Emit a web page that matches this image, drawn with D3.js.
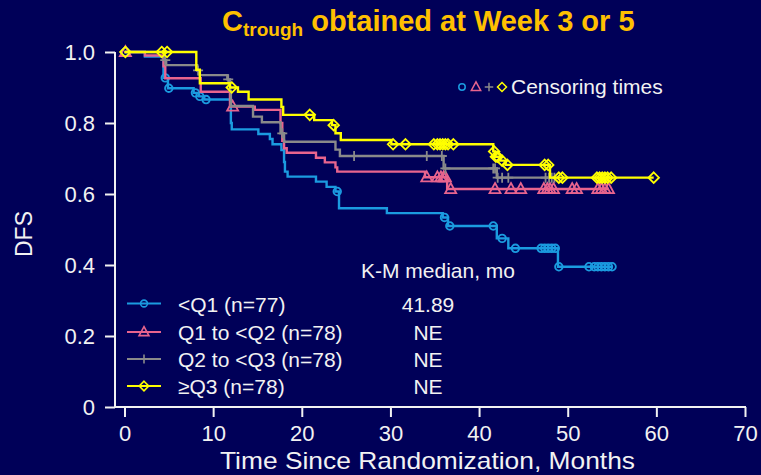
<!DOCTYPE html>
<html><head><meta charset="utf-8">
<script src="https://cdn.jsdelivr.net/npm/d3@7"></script>
<style>html,body{margin:0;padding:0;background:#000058;} svg{display:block;}</style>
</head><body><svg id="c" width="761" height="475"></svg>
<script>
// ---------- data ----------
const groupLabels = ["<Q1 (n=77)", "Q1 to <Q2 (n=78)", "Q2 to <Q3 (n=78)", "≥Q3 (n=78)"];
const medianLabels = ["41.89", "NE", "NE", "NE"];
const xTicks = [0, 10, 20, 30, 40, 50, 60, 70];
const yTicks = [0, 0.2, 0.4, 0.6, 0.8, 1.0];

// <Q1 : step times (months) and DFS after each step, censoring times
const q1Times = [0, 2.3, 4.4, 4.9, 7.8, 8.4, 9.0, 12.0, 12.1, 15.1, 16.4, 16.7, 17.7, 18.0, 18.1, 18.4, 21.6, 22.8, 23.8, 24.2, 29.6, 35.9, 36.5, 42.0, 43.3, 48.9];
const q1Surv  = [1, 0.987, 0.927, 0.898, 0.885, 0.875, 0.866, 0.80, 0.782, 0.769, 0.755, 0.740, 0.724, 0.69, 0.663, 0.649, 0.635, 0.620, 0.607, 0.560, 0.546, 0.534, 0.510, 0.475, 0.447, 0.395];
const q1Censor = [0.1, 4.6, 5.0, 8.0, 8.5, 9.2, 24.0, 36.1, 36.7, 41.6, 42.6, 44.1, 47.0, 47.4, 47.8, 48.2, 48.6, 49.0, 52.4, 53.0, 53.4, 53.8, 54.2, 54.6, 55.0];

// Q1 to <Q2
const q2Times = [0, 2.3, 4.4, 4.6, 8.6, 11.9, 14.7, 17.6, 17.8, 18.0, 18.3, 21.6, 22.6, 23.8, 24.0, 33.9, 36.4];
const q2Surv  = [1, 0.99, 0.96, 0.926, 0.888, 0.846, 0.837, 0.80, 0.75, 0.729, 0.716, 0.702, 0.689, 0.675, 0.663, 0.647, 0.614];
const q2Censor = [0.1, 12.2, 34.1, 35.3, 35.7, 36.0, 36.2, 36.8, 41.8, 43.6, 44.7, 47.3, 47.7, 48.0, 48.4, 50.5, 51.0, 53.4, 53.8, 54.2, 54.6];

// Q2 to <Q3
const q3Times = [0, 4.5, 4.7, 8.2, 8.5, 11.6, 11.9, 12.0, 14.5, 15.5, 17.6, 18.0, 23.8, 24.3, 36.0, 42.0];
const q3Surv  = [1, 0.977, 0.963, 0.948, 0.935, 0.923, 0.89, 0.848, 0.818, 0.802, 0.771, 0.747, 0.725, 0.707, 0.672, 0.646];
const q3Censor = [4.6, 8.3, 11.7, 17.8, 25.9, 34.1, 35.8, 36.2, 41.6, 41.8, 42.1, 42.6, 43.3, 47.5, 47.9, 48.2, 48.5];

// >=Q3
const q4Times = [0, 8.1, 8.5, 11.9, 12.8, 14.0, 17.7, 17.9, 21.4, 23.4, 23.8, 24.4, 30.1, 41.6, 41.8, 42.4, 43.0, 48.0];
const q4Surv  = [1, 0.95, 0.912, 0.90, 0.888, 0.866, 0.845, 0.823, 0.808, 0.794, 0.771, 0.752, 0.740, 0.72, 0.705, 0.694, 0.682, 0.646];
const q4Censor = [0.1, 4.2, 4.8, 12.1, 20.9, 23.6, 30.3, 31.7, 34.9, 35.3, 35.6, 35.9, 36.2, 36.5, 37.1, 41.7, 41.9, 42.1, 42.6, 43.2, 47.4, 47.8, 49.0, 49.4, 53.3, 53.6, 53.9, 54.2, 54.5, 54.9, 59.7];

const colors = ["#1B9BE0", "#E8648E", "#8A8A8A", "#FFFF00"];
const symbols = ["circle", "triangle", "plus", "diamond"];

// ---------- chart ----------
const W = 761, H = 475;
const BG = "#000058";
const FG = "#F2F2F2";
const FONT = "'Liberation Sans', Arial, sans-serif";
const svg = d3.select("#c");
svg.append("rect").attr("width", W).attr("height", H).attr("fill", BG);

const x = d3.scaleLinear().domain([0, 70]).range([124.5, 745]);
const y = d3.scaleLinear().domain([0, 1]).range([407, 52]);
const axisX0 = 115;

// title
const title = svg.append("text").attr("x", 222).attr("y", 31)
  .attr("font-family", FONT).attr("font-weight", "bold").attr("font-size", 29).attr("fill", "#FFC000");
title.append("tspan").text("C");
title.append("tspan").attr("font-size", 19).attr("dy", 5).text("trough");
title.append("tspan").attr("dy", -5).text(" obtained at Week 3 or 5");

// axes
const yAxis = svg.append("g").attr("transform", `translate(${axisX0},0)`)
  .call(d3.axisLeft(y).tickValues(yTicks).tickSize(10).tickPadding(10)
    .tickFormat(d => d === 0 ? "0" : d.toFixed(1)));
const xAxis = svg.append("g").attr("transform", `translate(0,${y(0)})`)
  .call(d3.axisBottom(x).tickValues(xTicks).tickSize(10).tickPadding(8).tickFormat(d3.format("d")));
[yAxis, xAxis].forEach(a => {
  a.select(".domain").remove();
  a.selectAll("line").attr("stroke", FG).attr("stroke-width", 2);
  a.selectAll("text").attr("fill", FG).attr("font-family", FONT).attr("font-size", 22);
});
svg.append("line").attr("x1", axisX0).attr("x2", axisX0).attr("y1", y(1)).attr("y2", y(0))
  .attr("stroke", FG).attr("stroke-width", 2);
svg.append("line").attr("x1", axisX0 - 1).attr("x2", x(70) + 1).attr("y1", y(0)).attr("y2", y(0))
  .attr("stroke", FG).attr("stroke-width", 2);

// axis titles
svg.append("text").attr("x", 220).attr("y", 469).attr("font-family", FONT).attr("font-size", 24)
  .attr("fill", FG).attr("textLength", 415).attr("lengthAdjust", "spacingAndGlyphs")
  .text("Time Since Randomization, Months");
svg.append("text").attr("transform", "translate(32,234) rotate(-90)").attr("text-anchor", "middle")
  .attr("font-family", FONT).attr("font-size", 23).attr("fill", FG).text("DFS");

// symbol paths
function symPath(type, s) {
  if (type === "circle") return `M${-s},0a${s},${s} 0 1,0 ${2*s},0a${s},${s} 0 1,0 ${-2*s},0Z`;
  if (type === "triangle") return `M0,${-s*1.2}L${s*1.1},${s*0.8}L${-s*1.1},${s*0.8}Z`;
  if (type === "plus") return `M${-s},0H${s}M0,${-s}V${s}`;
  if (type === "diamond") return `M0,${-s*1.1}L${s*1.1},0L0,${s*1.1}L${-s*1.1},0Z`;
}
const symSize = {circle: 3.8, triangle: 5, plus: 5, diamond: 4.8};

const groups = [
  {times: q1Times, surv: q1Surv, censor: q1Censor},
  {times: q2Times, surv: q2Surv, censor: q2Censor},
  {times: q3Times, surv: q3Surv, censor: q3Censor},
  {times: q4Times, surv: q4Surv, censor: q4Censor}
];

function survAt(g, t) {
  const i = d3.bisectRight(g.times, t) - 1;
  return g.surv[Math.max(0, i)];
}

const line = d3.line().x(d => x(d[0])).y(d => y(d[1])).curve(d3.curveStepAfter);

groups.forEach((g, gi) => {
  const pts = g.times.map((t, i) => [t, g.surv[i]]);
  const lastT = d3.max(g.censor.concat(g.times));
  if (lastT > pts[pts.length - 1][0]) pts.push([lastT, g.surv[g.surv.length - 1]]);
  svg.append("path").attr("d", line(pts)).attr("fill", "none")
    .attr("stroke", colors[gi]).attr("stroke-width", 2.4);
  svg.append("g").selectAll("path").data(g.censor).join("path")
    .attr("transform", t => `translate(${x(t)},${y(survAt(g, t))})`)
    .attr("d", symPath(symbols[gi], symSize[symbols[gi]]))
    .attr("fill", "none").attr("stroke", colors[gi]).attr("stroke-width", 1.8);
});

// censoring legend
const cx = [462, 476, 489, 502];
symbols.forEach((s, i) => {
  svg.append("path").attr("transform", `translate(${cx[i]},87)`)
    .attr("d", symPath(s, symSize[s] * 0.85)).attr("fill", "none")
    .attr("stroke", colors[i]).attr("stroke-width", 1.5);
});
svg.append("text").attr("x", 511).attr("y", 94).attr("font-family", FONT).attr("font-size", 21)
  .attr("fill", FG).text("Censoring times");

// K-M legend
svg.append("text").attr("x", 515).attr("y", 278).attr("text-anchor", "end").attr("font-family", FONT)
  .attr("font-size", 21).attr("fill", FG).text("K-M median, mo");
const rowY = [303.5, 332, 359, 386];
groupLabels.forEach((lab, i) => {
  svg.append("line").attr("x1", 127).attr("x2", 161).attr("y1", rowY[i]).attr("y2", rowY[i])
    .attr("stroke", colors[i]).attr("stroke-width", 2.2);
  svg.append("path").attr("transform", `translate(144,${rowY[i]})`)
    .attr("d", symPath(symbols[i], symSize[symbols[i]] * 0.9)).attr("fill", "none")
    .attr("stroke", colors[i]).attr("stroke-width", 1.6);
  svg.append("text").attr("x", 178).attr("y", rowY[i] + 8).attr("font-family", FONT)
    .attr("font-size", 21).attr("fill", FG).text(lab);
  svg.append("text").attr("x", 428).attr("y", rowY[i] + 8).attr("text-anchor", "middle")
    .attr("font-family", FONT).attr("font-size", 21).attr("fill", FG).text(medianLabels[i]);
});
</script>
</body></html>
